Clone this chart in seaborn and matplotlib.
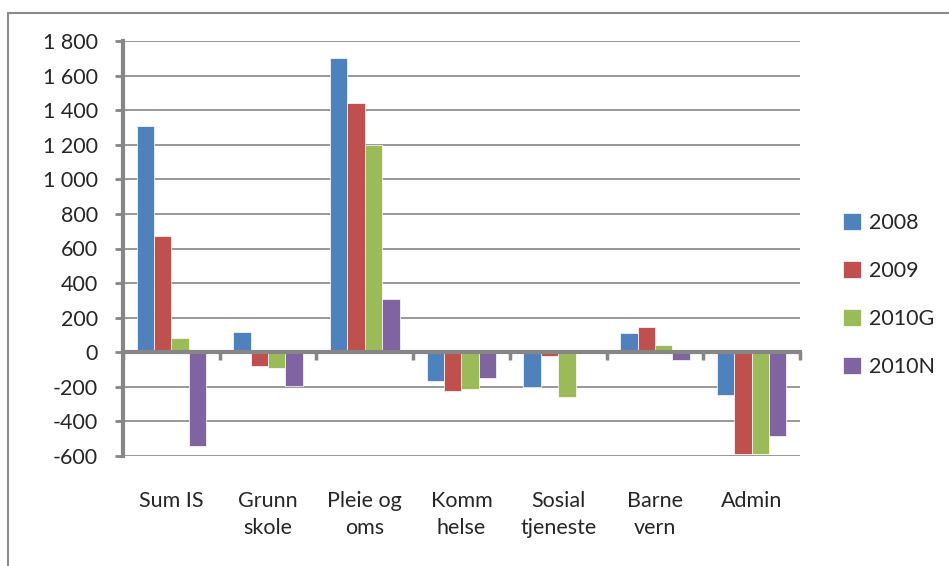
import pandas as pd
import numpy as np
import matplotlib
matplotlib.use("Agg")
import matplotlib.pyplot as plt
import seaborn as sns
from matplotlib.patches import Rectangle

# Data
kategorier = ["Sum IS", "Grunn\nskole", "Pleie og\noms", "Komm\nhelse",
              "Sosial\ntjeneste", "Barne\nvern", "Admin"]
aar = ["2008", "2009", "2010G", "2010N"]
v2008 = [1310, 120, 1700, -168, -202, 110, -250]
v2009 = [670, -80, 1440, -225, -20, 145, -590]
v2010g = [85, -90, 1200, -214, -260, 40, -590]
v2010n = [-540, -195, 310, -150, 0, -45, -485]
y_ticks = list(range(-600, 1801, 200))

farger = ["#4F81BD", "#C0504D", "#9BBB59", "#8064A2"]
grid_col = "#868686"

rows = []
for serie, verdier in zip(aar, [v2008, v2009, v2010g, v2010n]):
    for kat, v in zip(kategorier, verdier):
        rows.append({"kategori": kat, "år": serie, "verdi": v})
df = pd.DataFrame(rows)

sns.set_theme(style="white")
plt.rcParams["font.family"] = ["Lato", "DejaVu Sans"]
fs = 15.5

fig = plt.figure(figsize=(9.49, 5.66), dpi=100)
ax = fig.add_axes([123 / 949, 1 - 456 / 566, (800 - 123) / 949, (456 - 41) / 566])

sns.barplot(data=df, x="kategori", y="verdi", hue="år", palette=farger,
            saturation=1, width=0.72, edgecolor="white", linewidth=0.5, ax=ax,
            errorbar=None)

ax.set_ylim(-600, 1800)
ax.set_xlim(-0.5, len(kategorier) - 0.5)
ax.set_yticks(y_ticks)
ax.set_yticklabels([f"{t:,}".replace(",", " ") for t in y_ticks], fontsize=fs)
ax.yaxis.grid(True, color=grid_col, linewidth=1.2)
ax.set_axisbelow(True)
ax.set_xlabel("")
ax.set_ylabel("")

# zero axis with tick marks between categories
for side in ["top", "right"]:
    ax.spines[side].set_visible(False)
ax.spines["bottom"].set_position(("data", 0))
ax.spines["bottom"].set_color(grid_col)
ax.spines["bottom"].set_linewidth(3)
ax.spines["bottom"].set_zorder(3)
ax.spines["left"].set_color(grid_col)
ax.spines["left"].set_linewidth(3)
ax.set_xticks(np.arange(-0.5, len(kategorier), 1.0))
ax.set_xticklabels([])
ax.tick_params(axis="x", bottom=True, length=6, width=2.5, color=grid_col, direction="out")
ax.tick_params(axis="y", left=True, length=6, width=2, color=grid_col, pad=12)

for i, kat in enumerate(kategorier):
    ax.text(i, -0.085, kat, transform=ax.get_xaxis_transform(), ha="center", va="top",
            fontsize=fs, linespacing=1.45)

ax.legend(loc="center left", bbox_to_anchor=(824 / 949, 1 - 295 / 566),
          bbox_transform=fig.transFigure, frameon=False, fontsize=fs,
          handlelength=0.8, handleheight=0.8, handletextpad=0.4, labelspacing=1.3)

# outer chart frame
fig.patches.append(Rectangle((8 / 949, -0.2), 1.2, 1.2 - 13 / 566,
                             transform=fig.transFigure, fill=False,
                             edgecolor="#8a8a8a", linewidth=1.5))

fig.savefig("out.png", dpi=100)
